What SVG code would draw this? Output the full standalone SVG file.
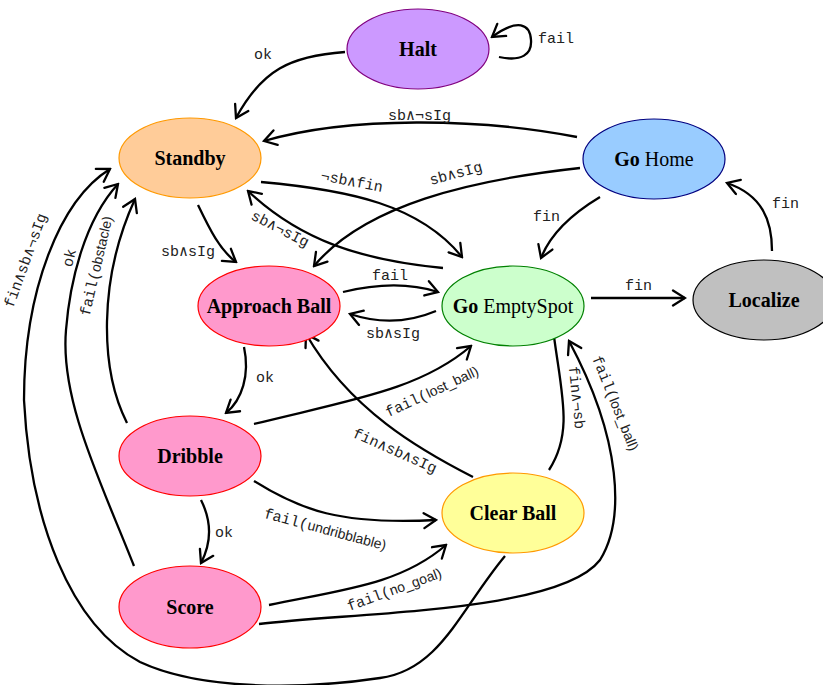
<svg xmlns="http://www.w3.org/2000/svg" width="823" height="685" viewBox="0 0 823 685">
<style>
.n{stroke-width:1.2}
.t{font-family:"Liberation Serif",serif;font-size:20px;fill:#000;text-anchor:middle}
.b{font-weight:bold}
.e{fill:none;stroke:#000;stroke-width:2.3;marker-end:url(#a)}
.l{font-family:"Liberation Mono","DejaVu Sans Mono",monospace;font-size:15px;fill:#222}
.p{font-family:"Liberation Sans",sans-serif;font-size:14px}
</style>
<defs>
<marker id="a" viewBox="-14 -9 16 18" refX="0" refY="0" markerWidth="16" markerHeight="18" markerUnits="userSpaceOnUse" orient="auto">
<path d="M-12,-7.5 L0,0 L-12,7.5" fill="none" stroke="#000" stroke-width="2.3" stroke-linecap="round" stroke-linejoin="miter"/>
</marker>
</defs>
<rect width="823" height="685" fill="#fff"/>
<g id="connectors">
<path class="e" d="M345,52 C290,56 262,70 236,118"/>
<path class="e" d="M499,57 C522,62 532,54 531,40 C530,24 518,18 492,37"/>
<path class="e" d="M577,137 C480,118 350,116 264,141"/>
<path class="e" d="M580,168 C470,180 365,205 314,266"/>
<path class="e" d="M261,182 C350,190 420,205 462,257"/>
<path class="e" d="M443,268 C360,260 300,240 248,191"/>
<path class="e" d="M198,205 C210,230 220,250 236,262"/>
<path class="e" d="M600,197 C570,215 550,235 541,258"/>
<path class="e" d="M772,251 C772,220 762,195 727,183"/>
<path class="e" d="M591,298 L685,298"/>
<path class="e" d="M343,292 C380,283 410,283 438,292"/>
<path class="e" d="M436,311 C410,322 380,324 350,314"/>
<path class="e" d="M244,347 C250,375 242,400 226,413"/>
<path class="e" d="M254,424 C350,400 420,390 471,346"/>
<path class="e" d="M473,477 C420,450 350,410 306,334"/>
<path class="e" d="M549,470 C575,430 560,390 552,321"/>
<path class="e" d="M259,624 C360,612 560,612 600,560 C625,520 622,440 569,341"/>
<path class="e" d="M254,481 C300,510 340,525 436,520"/>
<path class="e" d="M269,605 C340,590 400,585 446,545"/>
<path class="e" d="M201,500 C212,522 212,542 201,563"/>
<path class="e" d="M127,423 C100,370 98,280 135,199"/>
<path class="e" d="M134,566 C100,480 60,400 66,330 C70,280 85,220 118,184"/>
<path class="e" d="M505,556 C460,610 440,670 380,678 C300,690 200,690 140,662 C70,625 30,520 24,400 C24,290 60,200 110,169"/>
</g>
<g id="labels">
<text class="l" x="254" y="59">ok</text>
<text class="l" x="538" y="43">fail</text>
<text class="l" x="388" y="120">sb∧¬sIg</text>
<text class="l" transform="translate(351,186) rotate(11)" text-anchor="middle">¬sb∧fin</text>
<text class="l" transform="translate(457,178) rotate(-15)" text-anchor="middle">sb∧sIg</text>
<text class="l" transform="translate(278,233) rotate(27)" text-anchor="middle">sb∧¬sIg</text>
<text class="l" x="161" y="256">sb∧sIg</text>
<text class="l" x="533" y="221">fin</text>
<text class="l" x="772" y="208">fin</text>
<text class="l" x="625" y="290">fin</text>
<text class="l" x="372" y="280">fail</text>
<text class="l" x="366" y="338">sb∧sIg</text>
<text class="l" x="256" y="382">ok</text>
<text class="l" transform="translate(434,396) rotate(-25)" text-anchor="middle">fail(<tspan class="p">lost_ball)</tspan></text>
<text class="l" transform="translate(393,455) rotate(24)" text-anchor="middle">fin∧sb∧sIg</text>
<text class="l" transform="translate(572,398) rotate(84)" text-anchor="middle">fin∧¬sb</text>
<text class="l" transform="translate(611,405) rotate(68)" text-anchor="middle">fail(<tspan class="p">lost_ball)</tspan></text>
<text class="l" transform="translate(324,534) rotate(15)" text-anchor="middle">fail(<tspan class="p">undribblable)</tspan></text>
<text class="l" transform="translate(396,594) rotate(-20)" text-anchor="middle">fail(<tspan class="p">no_goal)</tspan></text>
<text class="l" x="215" y="537">ok</text>
<text class="l" transform="translate(30,262) rotate(-70)" text-anchor="middle">fin∧sb∧¬sIg</text>
<text class="l" transform="translate(74,259) rotate(-76)" text-anchor="middle">ok</text>
<text class="l" transform="translate(101,267) rotate(-77)" text-anchor="middle">fail(<tspan class="p">obstacle)</tspan></text>
</g>
<g id="halt"><ellipse class="n" cx="418" cy="49" rx="71" ry="40" fill="#cc99ff" stroke="#800080"/><text class="t b" x="418" y="56">Halt</text></g>
<g id="standby"><ellipse class="n" cx="190" cy="158" rx="71" ry="40" fill="#ffcc99" stroke="#ff9900"/><text class="t b" x="190" y="165">Standby</text></g>
<g id="gohome"><ellipse class="n" cx="654" cy="159" rx="71" ry="40" fill="#99ccff" stroke="#000080"/><text class="t" x="654" y="166"><tspan class="b">Go</tspan> Home</text></g>
<g id="approachball"><ellipse class="n" cx="269" cy="306" rx="71" ry="40" fill="#ff99cc" stroke="#ff0000"/><text class="t b" x="269" y="313">Approach Ball</text></g>
<g id="goemptyspot"><ellipse class="n" cx="513" cy="306" rx="71" ry="40" fill="#ccffcc" stroke="#008000"/><text class="t" x="513" y="313"><tspan class="b">Go</tspan> EmptySpot</text></g>
<g id="localize"><ellipse class="n" cx="764" cy="300" rx="71" ry="40" fill="#c0c0c0" stroke="#000"/><text class="t b" x="764" y="307">Localize</text></g>
<g id="dribble"><ellipse class="n" cx="190" cy="456" rx="71" ry="40" fill="#ff99cc" stroke="#ff0000"/><text class="t b" x="190" y="463">Dribble</text></g>
<g id="clearball"><ellipse class="n" cx="513" cy="513" rx="71" ry="40" fill="#ffff99" stroke="#ff9900"/><text class="t b" x="513" y="520">Clear Ball</text></g>
<g id="score"><ellipse class="n" cx="190" cy="607" rx="71" ry="41" fill="#ff99cc" stroke="#ff0000"/><text class="t b" x="190" y="614">Score</text></g>
</svg>
